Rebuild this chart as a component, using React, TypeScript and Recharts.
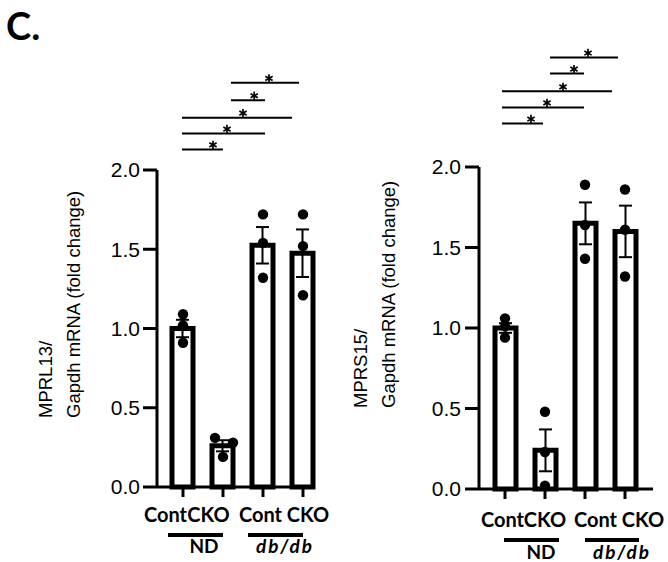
import React from 'react';
import {
  ComposedChart,
  Bar,
  XAxis,
  YAxis,
  Scatter,
  ErrorBar,
  ReferenceLine,
  ReferenceDot,
} from 'recharts';

// ---------- data ----------
const categories = ['Cont', 'CKO', 'Cont', 'CKO'];
const categoryX = [1, 2, 3, 4];
const groupNames = ['ND', 'db/db'];
const yTicks = [0, 0.5, 1.0, 1.5, 2.0];

// MPRL13
const mprl13Mean = [1.0, 0.26, 1.525, 1.475];
const mprl13Sem = [0.055, 0.035, 0.115, 0.15];
const mprl13PointY = [1.09, 1.02, 0.91, 0.31, 0.28, 0.19, 1.72, 1.54, 1.32, 1.72, 1.52, 1.21];
const mprl13PointX = [1, 1, 1, 1.8, 2.25, 2.0, 3, 3, 3, 4, 4, 4];
const mprl13SigFrom = [2.2, 2.2, 0.975, 0.975, 0.975];
const mprl13SigTo = [3.9, 3.05, 3.725, 3.05, 2.0];
const mprl13SigLevel = [2.55, 2.44, 2.33, 2.23, 2.13];
const mprl13StarX = [3.15, 2.78, 2.5, 2.1, 1.75];

// MPRS15
const mprs15Mean = [1.0, 0.24, 1.65, 1.6];
const mprs15Sem = [0.03, 0.13, 0.13, 0.16];
const mprs15PointY = [1.06, 1.01, 0.94, 0.48, 0.23, 0.02, 1.89, 1.64, 1.43, 1.86, 1.61, 1.32];
const mprs15PointX = [1, 1, 1, 2, 2, 2, 3, 3, 3, 4, 4, 4];
const mprs15SigFrom = [2.125, 2.125, 0.925, 0.925, 0.925];
const mprs15SigTo = [3.825, 2.975, 3.675, 2.975, 1.95];
const mprs15SigLevel = [2.68, 2.58, 2.47, 2.37, 2.27];
const mprs15StarX = [3.075, 2.725, 2.45, 2.05, 1.65];

// ---------- layout (positions / styles only) ----------
const leftLayout = {
  left: 0,
  width: 334,
  height: 562,
  margin: { top: 170, right: 19, bottom: 45, left: 107 },
  xDomain: [0.35, 4.3],
  labelDx: [-17.5, -14.5, -2.5, 5],
  labelDy: 23,
  groupSpans: [
    [0.625, 2.0],
    [2.625, 4.0],
  ],
  groupLabelX: [1.525, 3.55],
  groupLineY: -0.303,
  groupLabelY: -0.416,
  yLabelLine1: -105,
  yLabelLine2: -77,
  yLabelStart: -69,
  tickMargin: 3,
};

const rightLayout = {
  left: 334,
  width: 334,
  height: 562,
  margin: { top: 167, right: 15, bottom: 43, left: 95 },
  xDomain: [0.35, 4.7],
  labelDx: [-2.5, 0, 10.5, 18],
  labelDy: 26,
  groupSpans: [
    [0.975, 2.35],
    [3.0, 4.35],
  ],
  groupLabelX: [1.9, 3.925],
  groupLineY: -0.317,
  groupLabelY: -0.433,
  yLabelLine1: -112,
  yLabelLine2: -84,
  yLabelStart: -81,
  tickMargin: 4,
};

const NUM_FONT = '"Liberation Sans", Arial, sans-serif';
const LABEL_FONT = 'Lato, "Liberation Sans", sans-serif';

const Dot = (p: any) => <circle cx={p.cx} cy={p.cy} r={5.2} fill="#000" />;

const Star = (p: any) => {
  const r = 4.2;
  const c = p.cy - 4.5;
  return (
    <g stroke="#000" strokeWidth={1.7}>
      {[90, 30, 150].map((a) => {
        const rad = (a * Math.PI) / 180;
        return (
          <line
            key={a}
            x1={p.cx - r * Math.cos(rad)}
            y1={c - r * Math.sin(rad)}
            x2={p.cx + r * Math.cos(rad)}
            y2={c + r * Math.sin(rad)}
          />
        );
      })}
    </g>
  );
};

type PanelProps = {
  title: string;
  mean: number[];
  sem: number[];
  pointX: number[];
  pointY: number[];
  sigFrom: number[];
  sigTo: number[];
  sigLevel: number[];
  starX: number[];
  layout: any;
};

const Panel = ({ title, mean, sem, pointX, pointY, sigFrom, sigTo, sigLevel, starX, layout }: PanelProps) => {
  const barData = categoryX.map((x, i) => ({ x, mean: mean[i], err: sem[i] }));
  const points = pointX.map((x, i) => ({ x, y: pointY[i] }));

  const XTick = (p: any) => {
    const i = categoryX.indexOf(p.payload.value);
    return (
      <text
        x={p.x + layout.labelDx[i]}
        y={p.y + layout.labelDy}
        textAnchor="middle"
        fontFamily={LABEL_FONT}
        fontWeight={700}
        fontSize={20}
        fill="#000"
      >
        {categories[i]}
      </text>
    );
  };

  const YLabel = (p: any) => {
    const vb = p.viewBox;
    const px = vb.x + vb.width;
    const by = vb.y + vb.height;
    const x1 = px + layout.yLabelLine1;
    const x2 = px + layout.yLabelLine2;
    const y0 = by + layout.yLabelStart;
    return (
      <g fontFamily={NUM_FONT} fontSize={18.5} fill="#000">
        <text x={x1} y={y0} transform={`rotate(-90, ${x1}, ${y0})`} textAnchor="start">
          {title}
        </text>
        <text x={x2} y={y0} transform={`rotate(-90, ${x2}, ${y0})`} textAnchor="start">
          Gapdh mRNA (fold change)
        </text>
      </g>
    );
  };

  return (
    <div style={{ position: 'absolute', left: layout.left, top: 0 }}>
      <ComposedChart width={layout.width} height={layout.height} data={barData} margin={layout.margin}>
        <XAxis
          type="number"
          dataKey="x"
          domain={layout.xDomain}
          ticks={categoryX}
          tick={XTick}
          tickSize={10}
          tickMargin={2}
          height={30}
          axisLine={{ stroke: '#000', strokeWidth: 3 }}
          tickLine={{ stroke: '#000', strokeWidth: 3 }}
          allowDecimals
        />
        <XAxis xAxisId="pts" type="number" dataKey="x" domain={layout.xDomain} hide />
        <YAxis
          type="number"
          domain={[0, 2]}
          ticks={yTicks}
          width={50}
          tickSize={14}
          tickMargin={layout.tickMargin}
          tickFormatter={(v: number) => v.toFixed(1)}
          tick={{ fill: '#000', fontSize: 21, fontFamily: NUM_FONT }}
          axisLine={{ stroke: '#000', strokeWidth: 3 }}
          tickLine={{ stroke: '#000', strokeWidth: 3 }}
          label={{ content: YLabel }}
        />
        <Bar dataKey="mean" barSize={21} fill="#fff" stroke="#000" strokeWidth={5} isAnimationActive={false}>
          <ErrorBar dataKey="err" width={6.5} stroke="#000" strokeWidth={2} direction="y" />
        </Bar>
        <Scatter xAxisId="pts" data={points} dataKey="y" shape={Dot} isAnimationActive={false} />
        {sigLevel.map((lv, i) => (
          <ReferenceLine
            key={'l' + i}
            segment={[
              { x: sigFrom[i], y: lv },
              { x: sigTo[i], y: lv },
            ]}
            stroke="#000"
            strokeWidth={2}
            ifOverflow="visible"
          />
        ))}
        {sigLevel.map((lv, i) => (
          <ReferenceDot key={'s' + i} x={starX[i]} y={lv} ifOverflow="visible" shape={Star} />
        ))}
        {groupNames.map((g, i) => (
          <ReferenceLine
            key={'g' + i}
            segment={[
              { x: layout.groupSpans[i][0], y: layout.groupLineY },
              { x: layout.groupSpans[i][1], y: layout.groupLineY },
            ]}
            stroke="#000"
            strokeWidth={4}
            ifOverflow="visible"
          />
        ))}
        {groupNames.map((g, i) => (
          <ReferenceDot
            key={'gt' + i}
            x={layout.groupLabelX[i]}
            y={layout.groupLabelY}
            ifOverflow="visible"
            shape={(p: any) => (
              <text
                x={p.cx}
                y={p.cy}
                textAnchor="middle"
                fontFamily={LABEL_FONT}
                fontWeight={700}
                fontStyle={i === 1 ? 'italic' : 'normal'}
                letterSpacing={i === 1 ? 2 : 0}
                fontSize={19}
                fill="#000"
              >
                {g}
              </text>
            )}
          />
        ))}
      </ComposedChart>
    </div>
  );
};

export default function App() {
  return (
    <div style={{ position: 'absolute', left: 0, top: 0, width: 668, height: 562, background: '#fff' }}>
      <div
        style={{
          position: 'absolute',
          left: 6,
          top: 6,
          fontFamily: LABEL_FONT,
          fontWeight: 700,
          fontSize: 38,
          lineHeight: '38px',
          color: '#000',
        }}
      >
        C.
      </div>
      <Panel
        title="MPRL13/"
        mean={mprl13Mean}
        sem={mprl13Sem}
        pointX={mprl13PointX}
        pointY={mprl13PointY}
        sigFrom={mprl13SigFrom}
        sigTo={mprl13SigTo}
        sigLevel={mprl13SigLevel}
        starX={mprl13StarX}
        layout={leftLayout}
      />
      <Panel
        title="MPRS15/"
        mean={mprs15Mean}
        sem={mprs15Sem}
        pointX={mprs15PointX}
        pointY={mprs15PointY}
        sigFrom={mprs15SigFrom}
        sigTo={mprs15SigTo}
        sigLevel={mprs15SigLevel}
        starX={mprs15StarX}
        layout={rightLayout}
      />
    </div>
  );
}
